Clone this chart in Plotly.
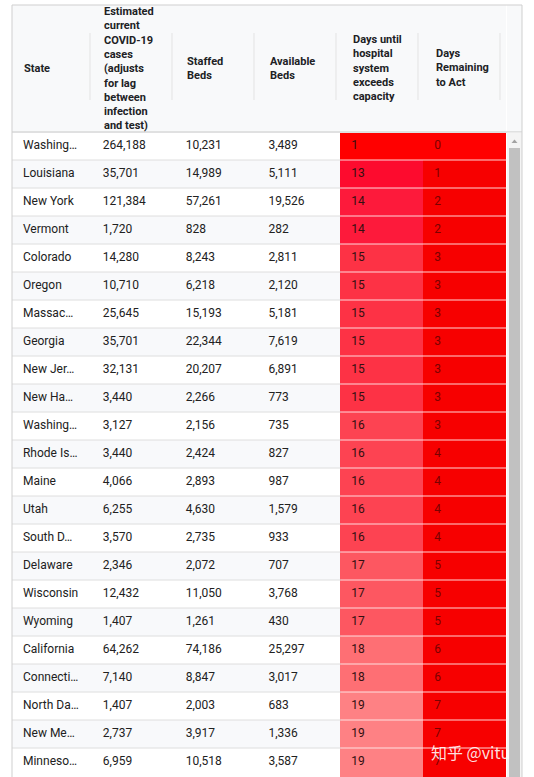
import plotly.graph_objects as go

# ---------------- data ----------------
states = ["Washing…", "Louisiana", "New York", "Vermont", "Colorado", "Oregon",
          "Massac…", "Georgia", "New Jer…", "New Ha…", "Washing…", "Rhode Is…",
          "Maine", "Utah", "South D…", "Delaware", "Wisconsin", "Wyoming",
          "California", "Connecti…", "North Da…", "New Me…", "Minneso…"]
cases = [264188, 35701, 121384, 1720, 14280, 10710, 25645, 35701, 32131, 3440,
         3127, 3440, 4066, 6255, 3570, 2346, 12432, 1407, 64262, 7140, 1407,
         2737, 6959]
staffed_beds = [10231, 14989, 57261, 828, 8243, 6218, 15193, 22344, 20207, 2266,
                2156, 2424, 2893, 4630, 2735, 2072, 11050, 1261, 74186, 8847,
                2003, 3917, 10518]
available_beds = [3489, 5111, 19526, 282, 2811, 2120, 5181, 7619, 6891, 773,
                  735, 827, 987, 1579, 933, 707, 3768, 430, 25297, 3017, 683,
                  1336, 3587]
days_until = [1, 13, 14, 14, 15, 15, 15, 15, 15, 15, 16, 16, 16, 16, 16, 17,
              17, 17, 18, 18, 19, 19, 19]
days_remaining = [0, 1, 2, 2, 3, 3, 3, 3, 3, 3, 3, 4, 4, 4, 4, 5, 5, 5, 6, 6,
                  7, 7, 7]
headers = ["State",
           "Estimated<br>current<br>COVID-19<br>cases<br>(adjusts<br>for lag<br>between<br>infection<br>and test)",
           "Staffed<br>Beds",
           "Available<br>Beds",
           "Days until<br>hospital<br>system<br>exceeds<br>capacity",
           "Days<br>Remaining<br>to Act"]

# ---------------- styling ----------------
W, H = 534, 777
TABLE_L, TABLE_R = 12, 507
OUTER_R = 522
TOP = 5
HEADER_H = 127
ROW_H = 28
col_px = [80, 83, 83, 83, 83, 83]
FONT = "Roboto, Arial, sans-serif"

until_colors = {1: "#ff0000", 13: "#fd0b2e", 14: "#fd1a3b", 15: "#fd3245",
                16: "#fd4352", 17: "#fd5761", 18: "#fe6f74", 19: "#fe8184"}
remain_colors = {0: "#ff0000"}

n = len(states)
row_bg = ["#ffffff" if i % 2 == 0 else "#f8f9fb" for i in range(n)]
fill_cols = [row_bg] * 4 + [[until_colors.get(v, "#ff4050") for v in days_until],
                            [remain_colors.get(v, "#f70000") for v in days_remaining]]

pad = "\u00a0"
cell_vals = [
    [pad + s for s in states],
    [pad + f"{v:,}" for v in cases],
    [pad + f"{v:,}" for v in staffed_beds],
    [pad + f"{v:,}" for v in available_beds],
    [pad + str(v) for v in days_until],
    [pad + str(v) for v in days_remaining],
]
font_cols = ["#212121"] * 4 + ["#331010", "#7a0000"]


def px_x(x):
    return x / W


def px_y(y):
    return 1 - y / H


table_bottom = TOP + HEADER_H + ROW_H * n

fig = go.Figure(go.Table(
    domain=dict(x=[px_x(TABLE_L), px_x(TABLE_R)],
                y=[max(0, px_y(table_bottom + 1)), px_y(TOP)]),
    columnwidth=col_px,
    header=dict(values=[""] * 6, height=HEADER_H,
                fill=dict(color="#f8f9fa"),
                line=dict(color="#f8f9fa", width=1)),
    cells=dict(values=cell_vals, height=ROW_H, align="left",
               fill=dict(color=fill_cols),
               line=dict(color=fill_cols, width=1),
               font=dict(family=FONT, size=12, color=font_cols)),
))

shapes = []
annotations = []

# header background across scrollbar area
shapes.append(dict(type="rect", xref="paper", yref="paper", layer="below",
                   x0=px_x(TABLE_R), x1=px_x(OUTER_R), y0=px_y(TOP + HEADER_H), y1=px_y(TOP),
                   fillcolor="#f8f9fa", line=dict(width=0)))

# header labels and separators
left = TABLE_L
for i, (w, label) in enumerate(zip(col_px, headers)):
    annotations.append(dict(text=label, xref="paper", yref="paper",
                            x=px_x(left + 10), y=px_y(TOP + HEADER_H / 2 - 0.5),
                            xanchor="left", yanchor="middle", align="left", showarrow=False,
                            font=dict(family=FONT, size=11, color="#202124", weight="bold")))
    sep = left + w - 2 - i
    shapes.append(dict(type="line", xref="paper", yref="paper", layer="above",
                       x0=px_x(sep), x1=px_x(sep), y0=px_y(100), y1=px_y(33),
                       line=dict(color="#e3e3e3", width=1)))
    left += w

# header bottom line
shapes.append(dict(type="line", xref="paper", yref="paper", layer="above",
                   x0=px_x(TABLE_L), x1=px_x(OUTER_R),
                   y0=px_y(TOP + HEADER_H), y1=px_y(TOP + HEADER_H),
                   line=dict(color="#c8c8c8", width=1)))

# row separators
red_left = TABLE_L + sum(col_px[:4])
for r in range(1, n):
    y = px_y(TOP + HEADER_H + ROW_H * r)
    shapes.append(dict(type="line", xref="paper", yref="paper", layer="above",
                       x0=px_x(TABLE_L), x1=px_x(red_left), y0=y, y1=y,
                       line=dict(color="#dedede", width=1)))
    shapes.append(dict(type="line", xref="paper", yref="paper", layer="above",
                       x0=px_x(red_left), x1=px_x(TABLE_R), y0=y, y1=y,
                       line=dict(color="rgba(255,235,235,0.9)", width=1)))

# scrollbar
shapes.append(dict(type="rect", xref="paper", yref="paper", layer="above",
                   x0=px_x(TABLE_R), x1=px_x(OUTER_R), y0=0, y1=px_y(TOP + HEADER_H + 0.5),
                   fillcolor="#f4f4f4", line=dict(width=0)))
shapes.append(dict(type="rect", xref="paper", yref="paper", layer="above",
                   x0=px_x(TABLE_R + 2), x1=px_x(OUTER_R - 2), y0=0, y1=px_y(148),
                   fillcolor="#c1c1c1", line=dict(width=0)))
shapes.append(dict(type="path", xref="paper", yref="paper", layer="above",
                   path=f"M {px_x(511.5)} {px_y(143)} L {px_x(517.5)} {px_y(143)} L {px_x(514.5)} {px_y(139.5)} Z",
                   fillcolor="#a3a3a3", line=dict(width=0)))

# outer border
shapes.append(dict(type="rect", xref="paper", yref="paper", layer="above",
                   x0=px_x(TABLE_L), x1=px_x(OUTER_R), y0=px_y(H + 2), y1=px_y(TOP),
                   fillcolor="rgba(0,0,0,0)", line=dict(color="#cfcfcf", width=1)))

# watermark
annotations.append(dict(text="知乎 @vitu", xref="paper", yref="paper",
                        x=px_x(429), y=px_y(752), xanchor="left", yanchor="middle",
                        showarrow=False,
                        font=dict(family="Noto Sans CJK SC", size=16,
                                  color="rgba(255,255,255,0.88)")))

fig.update_layout(width=W, height=H, margin=dict(l=0, r=0, t=0, b=0),
                  paper_bgcolor="white", plot_bgcolor="white",
                  shapes=shapes, annotations=annotations,
                  font=dict(family=FONT))

fig.write_html("out.html", config={"displayModeBar": False},
               post_script="document.body.style.margin='0';document.body.style.overflow='hidden';")
